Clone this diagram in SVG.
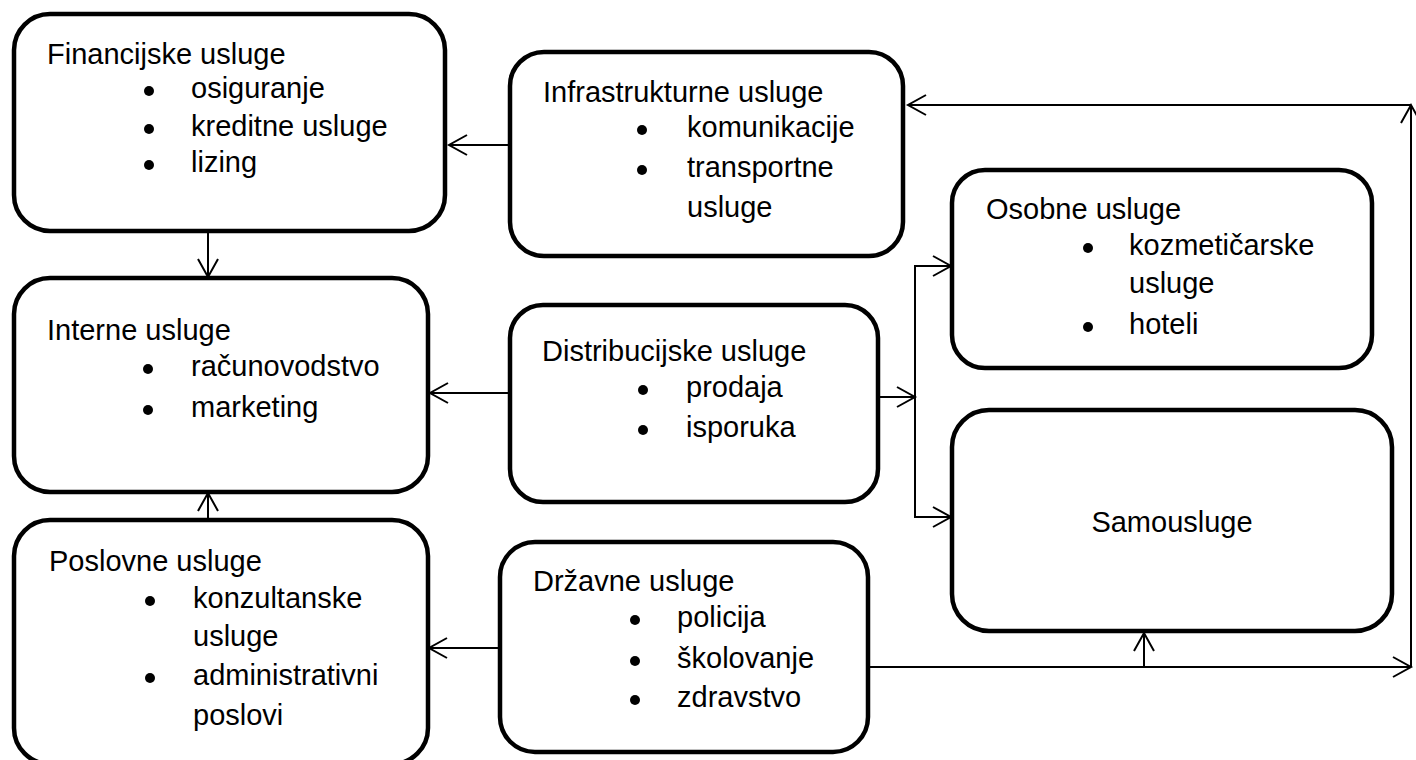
<svg xmlns="http://www.w3.org/2000/svg" width="1416" height="760" viewBox="0 0 1416 760">
<defs>
<style>
.box{fill:#fff;stroke:#000;stroke-width:4.5}
.t{font-family:"Liberation Sans",Arial,sans-serif;font-size:29px;fill:#000}
.b{fill:#000}
.c{fill:none;stroke:#000;stroke-width:2}
</style>
<marker id="ah" markerUnits="userSpaceOnUse" viewBox="-20 -12 22 24" refX="0" refY="0" markerWidth="22" markerHeight="24" orient="auto" overflow="visible">
<path d="M-18,-10 L0,0 L-18,10" fill="none" stroke="#000" stroke-width="2"/>
</marker>
</defs>
<rect width="1416" height="760" fill="#fff"/>
<g id="connectors">
<line class="c" x1="510" y1="145" x2="449" y2="145" marker-end="url(#ah)"/>
<line class="c" x1="208" y1="231" x2="208" y2="277" marker-end="url(#ah)"/>
<line class="c" x1="510" y1="393" x2="430" y2="393" marker-end="url(#ah)"/>
<line class="c" x1="208" y1="520" x2="208" y2="493" marker-end="url(#ah)"/>
<line class="c" x1="878" y1="397" x2="915" y2="397" marker-end="url(#ah)"/>
<line class="c" x1="915" y1="265" x2="915" y2="518"/>
<line class="c" x1="914" y1="266" x2="951" y2="266" marker-end="url(#ah)"/>
<line class="c" x1="914" y1="517" x2="951" y2="517" marker-end="url(#ah)"/>
<line class="c" x1="500" y1="648" x2="429" y2="648" marker-end="url(#ah)"/>
<line class="c" x1="868" y1="667" x2="1411" y2="667" marker-end="url(#ah)"/>
<line class="c" x1="1144" y1="667" x2="1144" y2="633" marker-end="url(#ah)"/>
<line class="c" x1="1411" y1="667" x2="1411" y2="105" marker-end="url(#ah)"/>
<line class="c" x1="1411" y1="105" x2="908" y2="105" marker-end="url(#ah)"/>
</g>
<g id="financijske">
<rect class="box" x="14" y="14" width="431" height="217" rx="36"/>
<text class="t" x="47" y="64">Financijske usluge</text>
<circle class="b" cx="149" cy="91" r="5"/><text class="t" x="191" y="98">osiguranje</text>
<circle class="b" cx="149" cy="129" r="5"/><text class="t" x="191" y="136">kreditne usluge</text>
<circle class="b" cx="149" cy="165" r="5"/><text class="t" x="191" y="172">lizing</text>
</g>
<g id="infrastrukturne">
<rect class="box" x="510" y="52" width="393" height="204" rx="34"/>
<text class="t" x="543" y="102">Infrastrukturne usluge</text>
<circle class="b" cx="642" cy="130" r="5"/><text class="t" x="687" y="137">komunikacije</text>
<circle class="b" cx="642" cy="170" r="5"/><text class="t" x="687" y="177">transportne</text>
<text class="t" x="687" y="217">usluge</text>
</g>
<g id="interne">
<rect class="box" x="14" y="278" width="414" height="214" rx="36"/>
<text class="t" x="47" y="340">Interne usluge</text>
<circle class="b" cx="148" cy="369" r="5"/><text class="t" x="191" y="376">računovodstvo</text>
<circle class="b" cx="148" cy="410" r="5"/><text class="t" x="191" y="417">marketing</text>
</g>
<g id="distribucijske">
<rect class="box" x="510" y="305" width="368" height="197" rx="33"/>
<text class="t" x="542" y="361">Distribucijske usluge</text>
<circle class="b" cx="643" cy="390" r="5"/><text class="t" x="686" y="397">prodaja</text>
<circle class="b" cx="643" cy="430" r="5"/><text class="t" x="686" y="437">isporuka</text>
</g>
<g id="osobne">
<rect class="box" x="952" y="170" width="420" height="198" rx="33"/>
<text class="t" x="986" y="219">Osobne usluge</text>
<circle class="b" cx="1088" cy="248" r="5"/><text class="t" x="1129" y="255">kozmetičarske</text>
<text class="t" x="1129" y="293">usluge</text>
<circle class="b" cx="1088" cy="327" r="5"/><text class="t" x="1129" y="334">hoteli</text>
</g>
<g id="samousluge">
<rect class="box" x="952" y="410" width="440" height="221" rx="37"/>
<text class="t" x="1172" y="532" text-anchor="middle">Samousluge</text>
</g>
<g id="poslovne">
<rect class="box" x="14" y="520" width="414" height="244" rx="36"/>
<text class="t" x="49" y="571">Poslovne usluge</text>
<circle class="b" cx="150" cy="601" r="5"/><text class="t" x="193" y="608">konzultanske</text>
<text class="t" x="193" y="646">usluge</text>
<circle class="b" cx="150" cy="678" r="5"/><text class="t" x="193" y="685">administrativni</text>
<text class="t" x="193" y="725">poslovi</text>
</g>
<g id="drzavne">
<rect class="box" x="500" y="542" width="368" height="210" rx="35"/>
<text class="t" x="533" y="591">Državne usluge</text>
<circle class="b" cx="635" cy="620" r="5"/><text class="t" x="677" y="627">policija</text>
<circle class="b" cx="635" cy="661" r="5"/><text class="t" x="677" y="668">školovanje</text>
<circle class="b" cx="635" cy="700" r="5"/><text class="t" x="677" y="707">zdravstvo</text>
</g>
</svg>
